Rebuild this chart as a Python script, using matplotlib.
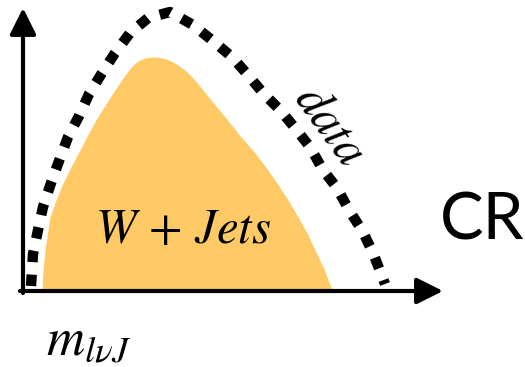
import matplotlib
matplotlib.use('Agg')
import matplotlib.pyplot as plt
from matplotlib.patches import FancyArrowPatch

plt.rcParams['mathtext.fontset'] = 'stix'

# W+Jets shape (top edge) in pixel units
wjets_x = [42, 43, 45, 50, 56, 63, 71, 80, 88, 97, 105, 112, 117, 122, 127, 132, 137, 142, 147, 153,
           159, 165, 171, 178, 186, 193, 200, 207, 218, 230, 241, 253, 265, 277, 288, 298, 307, 315, 324, 332]
wjets_y = [290, 270, 250, 217, 200, 183, 167, 150, 134.5, 118, 105.5, 94.5, 87, 79.5, 72.5, 66.2, 61.8, 59, 57.6, 57,
           57.4, 58.7, 61, 65, 71, 78, 86.3, 95, 108.5, 123, 137, 150.5, 166, 183, 200, 217, 233, 250, 269, 290]

# data curve (dotted)
data_x = [31, 33, 38, 43, 51, 59, 68, 79, 89, 102, 115, 130, 148, 170, 193, 213, 232, 248, 263, 280, 295, 310,
          323, 337, 349, 363, 373, 382, 385]
data_y = [286, 254, 230, 207, 183, 161, 137, 116, 94, 73, 53, 33, 18, 12, 25, 41, 57, 75, 93, 110, 128, 147,
          170, 188, 210, 232, 253, 276, 284]

fig = plt.figure(figsize=(5.25, 3.67), dpi=100)
ax = fig.add_axes([0, 0, 1, 1])
ax.set_xlim(0, 525)
ax.set_ylim(367, 0)
ax.axis('off')

ax.fill_between(wjets_x, wjets_y, 290, color='#FFCA66', lw=0)
ax.plot(data_x, data_y, color='black', lw=7.5, linestyle=(0, (1.1, 1.2)),
        dash_capstyle='butt', solid_joinstyle='round')

# axes with arrows
for start, end in [((23, 293), (23, 8)), ((20, 291), (443, 291))]:
    arr = FancyArrowPatch(start, end, arrowstyle='-|>,head_length=0.8,head_width=0.4',
                          mutation_scale=20, lw=3, color='black',
                          shrinkA=0, shrinkB=0)
    ax.add_patch(arr)

ax.text(183, 229, r'$W\,+\,Jets$', fontsize=35, ha='center', va='center')
ax.text(331, 125, r'$data$', fontsize=35, ha='center', va='center', rotation=-54)
ax.text(482, 221, 'CR', fontsize=47, ha='center', va='center',
        family=['Liberation Sans Narrow', 'Lato', 'DejaVu Sans'])
ax.text(46, 340, r'$m_{l\nu J}$', fontsize=38, ha='left', va='center')

fig.savefig('out.png', dpi=100)
